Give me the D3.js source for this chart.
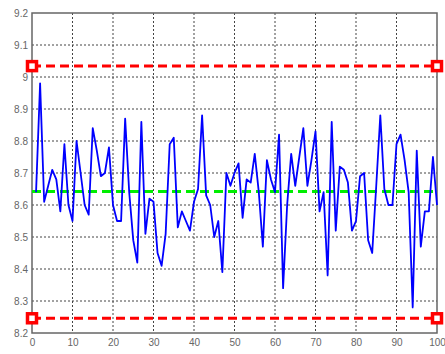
<!DOCTYPE html>
<html>
<head>
<meta charset="utf-8">
<script src="https://cdn.jsdelivr.net/npm/d3@7/dist/d3.min.js"></script>
<style>
  body { margin: 0; background: #fff; }
  svg { display: block; font-family: "Liberation Sans", Arial, sans-serif; }
</style>
</head>
<body>
<svg id="chart" width="445" height="354"></svg>
<script>
// sample values (x = 1..100)
const samples = [
  8.64, 8.98, 8.61, 8.66, 8.71, 8.68, 8.58, 8.79, 8.60, 8.55,
  8.80, 8.70, 8.60, 8.57, 8.84, 8.77, 8.69, 8.70, 8.78, 8.60,
  8.55, 8.55, 8.87, 8.64, 8.49, 8.42, 8.86, 8.51, 8.62, 8.61,
  8.45, 8.41, 8.51, 8.79, 8.81, 8.53, 8.58, 8.55, 8.52, 8.61,
  8.65, 8.88, 8.63, 8.60, 8.50, 8.55, 8.39, 8.70, 8.66, 8.70,
  8.73, 8.56, 8.68, 8.67, 8.76, 8.64, 8.47, 8.74, 8.68, 8.64,
  8.82, 8.34, 8.60, 8.76, 8.66, 8.75, 8.84, 8.66, 8.74, 8.83,
  8.58, 8.64, 8.38, 8.86, 8.52, 8.72, 8.71, 8.67, 8.52, 8.55,
  8.69, 8.70, 8.49, 8.45, 8.66, 8.88, 8.65, 8.60, 8.60, 8.79,
  8.82, 8.74, 8.64, 8.28, 8.77, 8.47, 8.58, 8.58, 8.75, 8.60
];

// control limits
const upperLimit = 9.034;
const centerLine = 8.642;
const lowerLimit = 8.246;

const xTicks = [0, 10, 20, 30, 40, 50, 60, 70, 80, 90, 100];
const yTicks = [8.2, 8.3, 8.4, 8.5, 8.6, 8.7, 8.8, 8.9, 9, 9.1, 9.2];

const margin = { top: 13, right: 8, bottom: 21, left: 32 };
const svg = d3.select('#chart');
const width = +svg.attr('width') - margin.left - margin.right;
const height = +svg.attr('height') - margin.top - margin.bottom;

const x = d3.scaleLinear().domain([0, 100]).range([0, width]);
const y = d3.scaleLinear().domain([8.2, 9.2]).range([height, 0]);

const g = svg.append('g')
  .attr('transform', 'translate(' + margin.left + ',' + margin.top + ')');

// dotted grid
g.append('g')
  .selectAll('line')
  .data(xTicks.slice(1, -1))
  .join('line')
    .attr('x1', d => x(d)).attr('x2', d => x(d))
    .attr('y1', 0).attr('y2', height)
    .attr('stroke', '#444')
    .attr('stroke-dasharray', '2,2');

g.append('g')
  .selectAll('line')
  .data(yTicks.slice(1, -1))
  .join('line')
    .attr('x1', 0).attr('x2', width)
    .attr('y1', d => y(d)).attr('y2', d => y(d))
    .attr('stroke', '#444')
    .attr('stroke-dasharray', '2,2');

// axes
const xAxis = g.append('g')
  .attr('transform', 'translate(0,' + height + ')')
  .call(d3.axisBottom(x).tickValues(xTicks).tickSize(0).tickPadding(6).tickFormat(d3.format('d')));

const yAxis = g.append('g')
  .call(d3.axisLeft(y).tickValues(yTicks).tickSize(0).tickPadding(4).tickFormat(d => String(+d.toFixed(1))));

[xAxis, yAxis].forEach(function(a) {
  a.select('.domain').remove();
  a.selectAll('text').attr('fill', '#666').style('font-size', '10px');
});

// plot box
g.append('rect')
  .attr('width', width)
  .attr('height', height)
  .attr('fill', 'none')
  .attr('stroke', '#666')
  .attr('stroke-width', 1.5);

// limit lines
const limits = [
  { value: upperLimit, color: '#ff0000', markers: true },
  { value: lowerLimit, color: '#ff0000', markers: true },
  { value: centerLine, color: '#00ee00', markers: false }
];

limits.forEach(function(l) {
  g.append('line')
    .attr('x1', x(0)).attr('x2', x(100))
    .attr('y1', y(l.value)).attr('y2', y(l.value))
    .attr('stroke', l.color)
    .attr('stroke-width', 3)
    .attr('stroke-dasharray', '9,5');
});

// data line
const line = d3.line()
  .x((d, i) => x(i + 1))
  .y(d => y(d));

g.append('path')
  .datum(samples)
  .attr('d', line)
  .attr('fill', 'none')
  .attr('stroke', '#0000ff')
  .attr('stroke-width', 1.8)
  .attr('stroke-linejoin', 'round');

// square markers at the ends of the limit lines
limits.filter(l => l.markers).forEach(function(l) {
  g.append('g')
    .selectAll('rect')
    .data([0, 100])
    .join('rect')
      .attr('x', d => x(d) - 4.5)
      .attr('y', y(l.value) - 4.5)
      .attr('width', 9)
      .attr('height', 9)
      .attr('fill', '#fff')
      .attr('stroke', l.color)
      .attr('stroke-width', 3.5);
});
</script>
</body>
</html>
